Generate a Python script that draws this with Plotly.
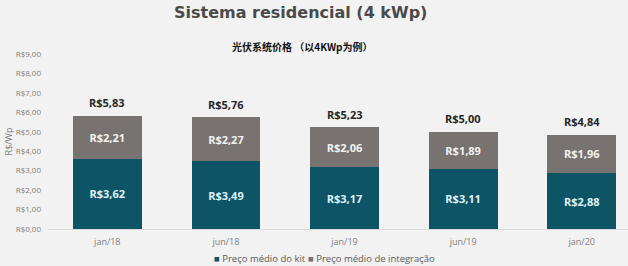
import plotly.graph_objects as go

categories = ["jan/18", "jun/18", "jan/19", "jun/19", "jan/20"]
kit = [3.62, 3.49, 3.17, 3.11, 2.88]
integracao = [2.21, 2.27, 2.06, 1.89, 1.96]
totais = [5.83, 5.76, 5.23, 5.00, 4.84]
tick_vals = [0, 1, 2, 3, 4, 5, 6, 7, 8, 9]
series_names = ["Preço médio do kit", "Preço médio de integração"]
series_colors = ["#0d5466", "#787271"]


def brl(v):
    return "R$" + f"{v:.2f}".replace(".", ",")


tick_text = [brl(v) for v in tick_vals]
label_font = "Open Sans"

fig = go.Figure()
fig.add_trace(go.Bar(
    x=categories, y=kit, name=series_names[0],
    marker=dict(color=series_colors[0], line=dict(width=0)),
    text=[brl(v) for v in kit], textposition="inside", insidetextanchor="middle",
    textfont=dict(color="#dff2f7", size=11, family=label_font, weight="bold"),
    width=0.58, showlegend=False,
))
fig.add_trace(go.Bar(
    x=categories, y=integracao, name=series_names[1],
    marker=dict(color=series_colors[1], line=dict(width=0)),
    text=[brl(v) for v in integracao], textposition="inside", insidetextanchor="middle",
    textfont=dict(color="#f2f2f2", size=11, family=label_font, weight="bold"),
    width=0.58, showlegend=False,
))
for c, t in zip(categories, totais):
    fig.add_annotation(
        x=c, y=t, text=brl(t), showarrow=False, yanchor="middle", yshift=13,
        font=dict(color="#262626", size=11, family=label_font, weight="bold"),
    )

fig.update_layout(
    barmode="stack",
    width=628, height=266,
    paper_bgcolor="#f2f2f2", plot_bgcolor="#f2f2f2",
    margin=dict(l=48, r=0, t=54, b=37),
    font=dict(family="Open Sans", color="#7f7f7f", size=8),
    showlegend=False,
    uniformtext=dict(minsize=8, mode="show"),
)
fig.update_xaxes(
    range=[-0.5, 4.39], showgrid=False, showline=True, linecolor="#d9d9d9", linewidth=1,
    ticks="", tickfont=dict(size=9, color="#7f7f7f"), zeroline=False, ticklabelstandoff=4,
)
fig.update_yaxes(
    range=[0, 9], tickvals=tick_vals, ticktext=tick_text, showgrid=False, zeroline=False,
    ticks="", showline=False, tickfont=dict(size=8, color="#7f7f7f"), ticklabelstandoff=6,
    title=dict(text="R$/Wp", font=dict(size=9, color="#7f7f7f"), standoff=1),
)
# legend drawn as text items
legend_x = [212, 306]
for name, color, lx in zip(series_names, series_colors, legend_x):
    fig.add_annotation(
        text=f"<span style='color:{color}'>■</span> {name}",
        xref="paper", yref="paper", x=(lx - 48) / 580, y=0, yshift=-29,
        xanchor="left", yanchor="middle", showarrow=False,
        font=dict(family="Open Sans", size=9.5, color="#595959"),
    )
fig.add_annotation(text="Sistema residencial (4 kWp)", xref="paper", yref="paper",
                   x=(300 - 48) / 580, y=1, yshift=42, showarrow=False,
                   font=dict(family="DejaVu Sans", size=16, color="#4a4a4a", weight="bold"),
                   yanchor="middle")
fig.add_annotation(text="光伏系统价格 （以4KWp为例）", xref="paper", yref="paper",
                   x=(302 - 48) / 580, y=1, yshift=8, showarrow=False,
                   font=dict(family="Noto Sans CJK SC", size=10, color="#111111", weight="bold"),
                   yanchor="middle")

fig.write_html("out.html")
